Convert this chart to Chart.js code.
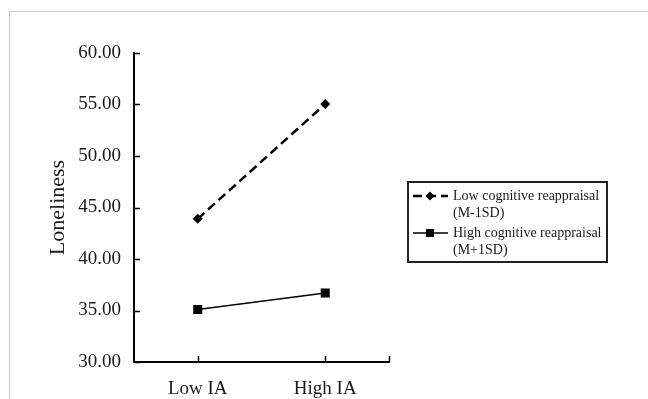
<!DOCTYPE html>
<html>
<head>
<meta charset="utf-8">
<script src="https://cdn.jsdelivr.net/npm/chart.js@4/dist/chart.umd.min.js"></script>
<style>
  html, body { margin: 0; padding: 0; background: #fff; }
  #wrap { position: relative; width: 648px; height: 399px; overflow: hidden; }
  #frame {
    position: absolute; left: 9px; top: 11px; width: 700px; height: 450px;
    border-left: 1px solid #c8c8c8; border-top: 1px solid #c8c8c8;
    pointer-events: none;
  }
  canvas { position: absolute; left: 0; top: 0; }
</style>
</head>
<body>
<div id="wrap">
  <canvas id="chart" width="648" height="399"></canvas>
  <div id="frame"></div>
</div>
<script>
const categories = ['Low IA', 'High IA'];
const lowReappraisal = [43.9, 55.05];
const highReappraisal = [35.1, 36.7];
const legendLabels = [
  ['Low cognitive reappraisal', '(M-1SD)'],
  ['High cognitive reappraisal', '(M+1SD)']
];
const yMin = 30;
const yMax = 60;
const yStep = 5;

const serif = "'Liberation Serif', 'Times New Roman', serif";
const ink = '#1a1a1a';

// ticks in this chart point into the plot area
const innerTicks = {
  id: 'innerTicks',
  afterDatasetsDraw(chart) {
    const { ctx, chartArea, scales } = chart;
    ctx.save();
    ctx.strokeStyle = '#000';
    ctx.lineWidth = 1.5;
    ctx.beginPath();
    scales.y.ticks.forEach(t => {
      const y = Math.round(scales.y.getPixelForValue(t.value)) + 0.5;
      ctx.moveTo(chartArea.left, y);
      ctx.lineTo(chartArea.left + 6, y);
    });
    const xs = categories.map((c, i) => scales.x.getPixelForValue(i));
    xs.push(chartArea.right);
    xs.forEach(x => {
      x = Math.round(x) + 0.5;
      ctx.moveTo(x, chartArea.bottom);
      ctx.lineTo(x, chartArea.bottom - 6);
    });
    ctx.stroke();
    ctx.restore();
  }
};

const boxLegend = {
  id: 'boxLegend',
  afterDraw(chart) {
    const { ctx } = chart;
    const left = 408, top = 182, right = 607, bottom = 262;
    ctx.save();
    ctx.strokeStyle = '#222';
    ctx.lineWidth = 2;
    ctx.strokeRect(left, top, right - left, bottom - top);

    ctx.font = '14px ' + serif;
    ctx.fillStyle = ink;
    ctx.textBaseline = 'middle';
    const rows = [196, 233];
    chart.data.datasets.forEach((ds, i) => {
      const y = rows[i];
      ctx.strokeStyle = '#000';
      ctx.lineWidth = ds.borderWidth;
      ctx.setLineDash(ds.borderDash || []);
      ctx.beginPath();
      ctx.moveTo(413, y);
      ctx.lineTo(448, y);
      ctx.stroke();
      ctx.setLineDash([]);
      ctx.fillStyle = '#000';
      ctx.beginPath();
      if (ds.pointStyle === 'rectRot') {
        const r = 4.5;
        ctx.moveTo(430, y - r);
        ctx.lineTo(430 + r, y);
        ctx.lineTo(430, y + r);
        ctx.lineTo(430 - r, y);
        ctx.closePath();
      } else {
        ctx.rect(426, y - 4, 8, 8);
      }
      ctx.fill();
      ctx.fillStyle = ink;
      ctx.fillText(legendLabels[i][0], 453, y);
      ctx.fillText(legendLabels[i][1], 453, y + 17);
    });
    ctx.restore();
  }
};

new Chart(document.getElementById('chart'), {
  type: 'line',
  data: {
    labels: categories,
    datasets: [
      {
        label: legendLabels[0].join(' '),
        data: lowReappraisal,
        borderColor: '#000',
        backgroundColor: '#000',
        borderWidth: 2.5,
        borderDash: [9, 5],
        pointStyle: 'rectRot',
        pointRadius: 5,
        pointBorderWidth: 0,
        tension: 0
      },
      {
        label: legendLabels[1].join(' '),
        data: highReappraisal,
        borderColor: '#000',
        backgroundColor: '#000',
        borderWidth: 1.5,
        pointStyle: 'rect',
        pointRadius: 6.4,
        pointBorderWidth: 0,
        tension: 0
      }
    ]
  },
  options: {
    responsive: false,
    animation: false,
    layout: { padding: { top: 53, right: 259, left: 0, bottom: 0 } },
    plugins: {
      legend: { display: false },
      tooltip: { enabled: false }
    },
    scales: {
      x: {
        offset: true,
        grid: { display: false, drawTicks: false },
        border: { display: true, color: '#000', width: 2 },
        ticks: { color: ink, font: { family: serif, size: 19 }, padding: 16 },
        afterFit(scale) { scale.height = 37; }
      },
      y: {
        min: yMin,
        max: yMax,
        grid: { display: false, drawTicks: false },
        border: { display: true, color: '#000', width: 2 },
        ticks: {
          stepSize: yStep,
          color: ink,
          font: { family: serif, size: 19 },
          padding: 13,
          callback: v => v.toFixed(2)
        },
        title: {
          display: true,
          text: 'Loneliness',
          color: ink,
          font: { family: serif, size: 22 },
          padding: { top: 45, bottom: 0 }
        },
        afterFit(scale) { scale.width = 134; }
      }
    }
  },
  plugins: [innerTicks, boxLegend]
});
</script>
</body>
</html>
